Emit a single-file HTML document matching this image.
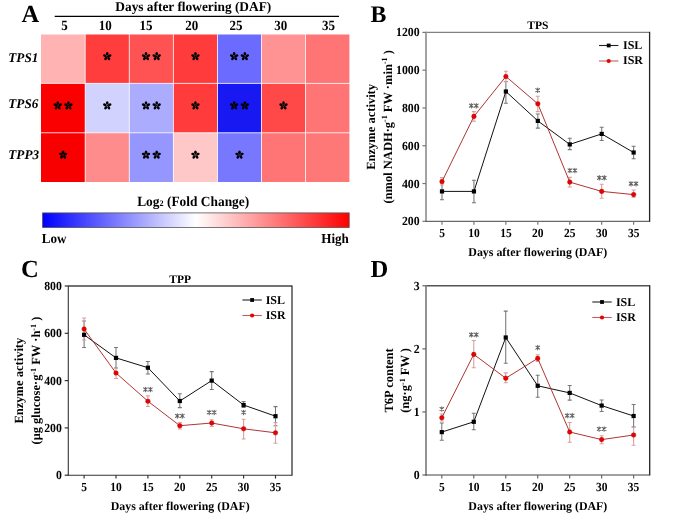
<!DOCTYPE html>
<html><head><meta charset="utf-8"><style>
html,body{margin:0;padding:0;background:#fff;}
svg{display:block;will-change:transform;opacity:0.999;}
text{font-family:"Liberation Serif", serif;text-rendering:geometricPrecision;}
</style></head><body>
<svg width="685" height="519" viewBox="0 0 685 519">
<rect width="685" height="519" fill="#fff"/>
<text x="21.50" y="21.60" font-size="24.5" text-anchor="start" font-weight="bold" font-style="normal" fill="#000" >A</text>
<text x="115.30" y="10.50" font-size="13.5" text-anchor="start" font-weight="bold" font-style="normal" fill="#000" textLength="156" lengthAdjust="spacingAndGlyphs">Days after flowering (DAF)</text>
<line x1="54.7" y1="16.3" x2="339" y2="16.3" stroke="#000" stroke-width="1.2"/>
<text x="64.40" y="30.45" font-size="13" text-anchor="middle" font-weight="bold" font-style="normal" fill="#000" transform="translate(0 30.45) scale(1 1.08) translate(0 -30.45)">5</text>
<text x="105.20" y="30.45" font-size="13" text-anchor="middle" font-weight="bold" font-style="normal" fill="#000" transform="translate(0 30.45) scale(1 1.08) translate(0 -30.45)">10</text>
<text x="146.00" y="30.45" font-size="13" text-anchor="middle" font-weight="bold" font-style="normal" fill="#000" transform="translate(0 30.45) scale(1 1.08) translate(0 -30.45)">15</text>
<text x="191.80" y="30.45" font-size="13" text-anchor="middle" font-weight="bold" font-style="normal" fill="#000" transform="translate(0 30.45) scale(1 1.08) translate(0 -30.45)">20</text>
<text x="236.00" y="30.45" font-size="13" text-anchor="middle" font-weight="bold" font-style="normal" fill="#000" transform="translate(0 30.45) scale(1 1.08) translate(0 -30.45)">25</text>
<text x="280.70" y="30.45" font-size="13" text-anchor="middle" font-weight="bold" font-style="normal" fill="#000" transform="translate(0 30.45) scale(1 1.08) translate(0 -30.45)">30</text>
<text x="328.60" y="30.45" font-size="13" text-anchor="middle" font-weight="bold" font-style="normal" fill="#000" transform="translate(0 30.45) scale(1 1.08) translate(0 -30.45)">35</text>
<text x="8.30" y="62.10" font-size="13.2" text-anchor="start" font-weight="bold" font-style="italic" fill="#000" >TPS1</text>
<text x="8.30" y="108.20" font-size="13.2" text-anchor="start" font-weight="bold" font-style="italic" fill="#000" >TPS6</text>
<text x="8.30" y="159.40" font-size="13.2" text-anchor="start" font-weight="bold" font-style="italic" fill="#000" >TPP3</text>
<rect x="41" y="34.5" width="44.20" height="48.90" fill="#FFB3B3"/>
<rect x="85.2" y="34.5" width="44.10" height="48.90" fill="#FF3D3D"/>
<rect x="129.3" y="34.5" width="44.10" height="48.90" fill="#FF5252"/>
<rect x="173.4" y="34.5" width="44.10" height="48.90" fill="#FF3B3B"/>
<rect x="217.5" y="34.5" width="44.00" height="48.90" fill="#6B6BFF"/>
<rect x="261.5" y="34.5" width="44.00" height="48.90" fill="#FF9393"/>
<rect x="305.5" y="34.5" width="43.90" height="48.90" fill="#FF7474"/>
<rect x="41" y="83.4" width="44.20" height="49.40" fill="#FA0000"/>
<rect x="85.2" y="83.4" width="44.10" height="49.40" fill="#D2D2FF"/>
<rect x="129.3" y="83.4" width="44.10" height="49.40" fill="#ACACFF"/>
<rect x="173.4" y="83.4" width="44.10" height="49.40" fill="#FF3B3B"/>
<rect x="217.5" y="83.4" width="44.00" height="49.40" fill="#1818F2"/>
<rect x="261.5" y="83.4" width="44.00" height="49.40" fill="#FF4848"/>
<rect x="305.5" y="83.4" width="43.90" height="49.40" fill="#FF7474"/>
<rect x="41" y="132.8" width="44.20" height="49.20" fill="#F80000"/>
<rect x="85.2" y="132.8" width="44.10" height="49.20" fill="#FF8C8C"/>
<rect x="129.3" y="132.8" width="44.10" height="49.20" fill="#9696FF"/>
<rect x="173.4" y="132.8" width="44.10" height="49.20" fill="#FFC8C8"/>
<rect x="217.5" y="132.8" width="44.00" height="49.20" fill="#7878FF"/>
<rect x="261.5" y="132.8" width="44.00" height="49.20" fill="#FF7474"/>
<rect x="305.5" y="132.8" width="43.90" height="49.20" fill="#FF7878"/>
<line x1="85.2" y1="34.5" x2="85.2" y2="182" stroke="#fff" stroke-width="1" opacity="0.75"/>
<line x1="129.3" y1="34.5" x2="129.3" y2="182" stroke="#fff" stroke-width="1" opacity="0.75"/>
<line x1="173.4" y1="34.5" x2="173.4" y2="182" stroke="#fff" stroke-width="1" opacity="0.75"/>
<line x1="217.5" y1="34.5" x2="217.5" y2="182" stroke="#fff" stroke-width="1" opacity="0.75"/>
<line x1="261.5" y1="34.5" x2="261.5" y2="182" stroke="#fff" stroke-width="1" opacity="0.75"/>
<line x1="305.5" y1="34.5" x2="305.5" y2="182" stroke="#fff" stroke-width="1" opacity="0.75"/>
<line x1="41" y1="83.4" x2="349.4" y2="83.4" stroke="#fff" stroke-width="1" opacity="0.75"/>
<line x1="41" y1="132.8" x2="349.4" y2="132.8" stroke="#fff" stroke-width="1" opacity="0.75"/>
<g fill="#000"><ellipse cx="107.25" cy="53.87" rx="1.81" ry="1.33" transform="rotate(-90 107.25 53.87)"/><ellipse cx="109.70" cy="55.65" rx="1.81" ry="1.33" transform="rotate(-18 109.70 55.65)"/><ellipse cx="108.77" cy="58.54" rx="1.81" ry="1.33" transform="rotate(54 108.77 58.54)"/><ellipse cx="105.73" cy="58.54" rx="1.81" ry="1.33" transform="rotate(126 105.73 58.54)"/><ellipse cx="104.80" cy="55.65" rx="1.81" ry="1.33" transform="rotate(198 104.80 55.65)"/><circle cx="107.25" cy="56.45" r="0.77"/></g>
<g fill="#000"><ellipse cx="146.00" cy="53.87" rx="1.81" ry="1.33" transform="rotate(-90 146.00 53.87)"/><ellipse cx="148.45" cy="55.65" rx="1.81" ry="1.33" transform="rotate(-18 148.45 55.65)"/><ellipse cx="147.52" cy="58.54" rx="1.81" ry="1.33" transform="rotate(54 147.52 58.54)"/><ellipse cx="144.48" cy="58.54" rx="1.81" ry="1.33" transform="rotate(126 144.48 58.54)"/><ellipse cx="143.55" cy="55.65" rx="1.81" ry="1.33" transform="rotate(198 143.55 55.65)"/><circle cx="146.00" cy="56.45" r="0.77"/></g>
<g fill="#000"><ellipse cx="156.70" cy="53.87" rx="1.81" ry="1.33" transform="rotate(-90 156.70 53.87)"/><ellipse cx="159.15" cy="55.65" rx="1.81" ry="1.33" transform="rotate(-18 159.15 55.65)"/><ellipse cx="158.22" cy="58.54" rx="1.81" ry="1.33" transform="rotate(54 158.22 58.54)"/><ellipse cx="155.18" cy="58.54" rx="1.81" ry="1.33" transform="rotate(126 155.18 58.54)"/><ellipse cx="154.25" cy="55.65" rx="1.81" ry="1.33" transform="rotate(198 154.25 55.65)"/><circle cx="156.70" cy="56.45" r="0.77"/></g>
<g fill="#000"><ellipse cx="195.45" cy="53.87" rx="1.81" ry="1.33" transform="rotate(-90 195.45 53.87)"/><ellipse cx="197.90" cy="55.65" rx="1.81" ry="1.33" transform="rotate(-18 197.90 55.65)"/><ellipse cx="196.97" cy="58.54" rx="1.81" ry="1.33" transform="rotate(54 196.97 58.54)"/><ellipse cx="193.93" cy="58.54" rx="1.81" ry="1.33" transform="rotate(126 193.93 58.54)"/><ellipse cx="193.00" cy="55.65" rx="1.81" ry="1.33" transform="rotate(198 193.00 55.65)"/><circle cx="195.45" cy="56.45" r="0.77"/></g>
<g fill="#000"><ellipse cx="234.15" cy="53.87" rx="1.81" ry="1.33" transform="rotate(-90 234.15 53.87)"/><ellipse cx="236.60" cy="55.65" rx="1.81" ry="1.33" transform="rotate(-18 236.60 55.65)"/><ellipse cx="235.67" cy="58.54" rx="1.81" ry="1.33" transform="rotate(54 235.67 58.54)"/><ellipse cx="232.63" cy="58.54" rx="1.81" ry="1.33" transform="rotate(126 232.63 58.54)"/><ellipse cx="231.70" cy="55.65" rx="1.81" ry="1.33" transform="rotate(198 231.70 55.65)"/><circle cx="234.15" cy="56.45" r="0.77"/></g>
<g fill="#000"><ellipse cx="244.85" cy="53.87" rx="1.81" ry="1.33" transform="rotate(-90 244.85 53.87)"/><ellipse cx="247.30" cy="55.65" rx="1.81" ry="1.33" transform="rotate(-18 247.30 55.65)"/><ellipse cx="246.37" cy="58.54" rx="1.81" ry="1.33" transform="rotate(54 246.37 58.54)"/><ellipse cx="243.33" cy="58.54" rx="1.81" ry="1.33" transform="rotate(126 243.33 58.54)"/><ellipse cx="242.40" cy="55.65" rx="1.81" ry="1.33" transform="rotate(198 242.40 55.65)"/><circle cx="244.85" cy="56.45" r="0.77"/></g>
<g fill="#000"><ellipse cx="57.75" cy="103.02" rx="1.81" ry="1.33" transform="rotate(-90 57.75 103.02)"/><ellipse cx="60.20" cy="104.80" rx="1.81" ry="1.33" transform="rotate(-18 60.20 104.80)"/><ellipse cx="59.27" cy="107.69" rx="1.81" ry="1.33" transform="rotate(54 59.27 107.69)"/><ellipse cx="56.23" cy="107.69" rx="1.81" ry="1.33" transform="rotate(126 56.23 107.69)"/><ellipse cx="55.30" cy="104.80" rx="1.81" ry="1.33" transform="rotate(198 55.30 104.80)"/><circle cx="57.75" cy="105.60" r="0.77"/></g>
<g fill="#000"><ellipse cx="68.45" cy="103.02" rx="1.81" ry="1.33" transform="rotate(-90 68.45 103.02)"/><ellipse cx="70.90" cy="104.80" rx="1.81" ry="1.33" transform="rotate(-18 70.90 104.80)"/><ellipse cx="69.97" cy="107.69" rx="1.81" ry="1.33" transform="rotate(54 69.97 107.69)"/><ellipse cx="66.93" cy="107.69" rx="1.81" ry="1.33" transform="rotate(126 66.93 107.69)"/><ellipse cx="66.00" cy="104.80" rx="1.81" ry="1.33" transform="rotate(198 66.00 104.80)"/><circle cx="68.45" cy="105.60" r="0.77"/></g>
<g fill="#000"><ellipse cx="107.25" cy="103.02" rx="1.81" ry="1.33" transform="rotate(-90 107.25 103.02)"/><ellipse cx="109.70" cy="104.80" rx="1.81" ry="1.33" transform="rotate(-18 109.70 104.80)"/><ellipse cx="108.77" cy="107.69" rx="1.81" ry="1.33" transform="rotate(54 108.77 107.69)"/><ellipse cx="105.73" cy="107.69" rx="1.81" ry="1.33" transform="rotate(126 105.73 107.69)"/><ellipse cx="104.80" cy="104.80" rx="1.81" ry="1.33" transform="rotate(198 104.80 104.80)"/><circle cx="107.25" cy="105.60" r="0.77"/></g>
<g fill="#000"><ellipse cx="146.00" cy="103.02" rx="1.81" ry="1.33" transform="rotate(-90 146.00 103.02)"/><ellipse cx="148.45" cy="104.80" rx="1.81" ry="1.33" transform="rotate(-18 148.45 104.80)"/><ellipse cx="147.52" cy="107.69" rx="1.81" ry="1.33" transform="rotate(54 147.52 107.69)"/><ellipse cx="144.48" cy="107.69" rx="1.81" ry="1.33" transform="rotate(126 144.48 107.69)"/><ellipse cx="143.55" cy="104.80" rx="1.81" ry="1.33" transform="rotate(198 143.55 104.80)"/><circle cx="146.00" cy="105.60" r="0.77"/></g>
<g fill="#000"><ellipse cx="156.70" cy="103.02" rx="1.81" ry="1.33" transform="rotate(-90 156.70 103.02)"/><ellipse cx="159.15" cy="104.80" rx="1.81" ry="1.33" transform="rotate(-18 159.15 104.80)"/><ellipse cx="158.22" cy="107.69" rx="1.81" ry="1.33" transform="rotate(54 158.22 107.69)"/><ellipse cx="155.18" cy="107.69" rx="1.81" ry="1.33" transform="rotate(126 155.18 107.69)"/><ellipse cx="154.25" cy="104.80" rx="1.81" ry="1.33" transform="rotate(198 154.25 104.80)"/><circle cx="156.70" cy="105.60" r="0.77"/></g>
<g fill="#000"><ellipse cx="195.45" cy="103.02" rx="1.81" ry="1.33" transform="rotate(-90 195.45 103.02)"/><ellipse cx="197.90" cy="104.80" rx="1.81" ry="1.33" transform="rotate(-18 197.90 104.80)"/><ellipse cx="196.97" cy="107.69" rx="1.81" ry="1.33" transform="rotate(54 196.97 107.69)"/><ellipse cx="193.93" cy="107.69" rx="1.81" ry="1.33" transform="rotate(126 193.93 107.69)"/><ellipse cx="193.00" cy="104.80" rx="1.81" ry="1.33" transform="rotate(198 193.00 104.80)"/><circle cx="195.45" cy="105.60" r="0.77"/></g>
<g fill="#000"><ellipse cx="234.15" cy="103.02" rx="1.81" ry="1.33" transform="rotate(-90 234.15 103.02)"/><ellipse cx="236.60" cy="104.80" rx="1.81" ry="1.33" transform="rotate(-18 236.60 104.80)"/><ellipse cx="235.67" cy="107.69" rx="1.81" ry="1.33" transform="rotate(54 235.67 107.69)"/><ellipse cx="232.63" cy="107.69" rx="1.81" ry="1.33" transform="rotate(126 232.63 107.69)"/><ellipse cx="231.70" cy="104.80" rx="1.81" ry="1.33" transform="rotate(198 231.70 104.80)"/><circle cx="234.15" cy="105.60" r="0.77"/></g>
<g fill="#000"><ellipse cx="244.85" cy="103.02" rx="1.81" ry="1.33" transform="rotate(-90 244.85 103.02)"/><ellipse cx="247.30" cy="104.80" rx="1.81" ry="1.33" transform="rotate(-18 247.30 104.80)"/><ellipse cx="246.37" cy="107.69" rx="1.81" ry="1.33" transform="rotate(54 246.37 107.69)"/><ellipse cx="243.33" cy="107.69" rx="1.81" ry="1.33" transform="rotate(126 243.33 107.69)"/><ellipse cx="242.40" cy="104.80" rx="1.81" ry="1.33" transform="rotate(198 242.40 104.80)"/><circle cx="244.85" cy="105.60" r="0.77"/></g>
<g fill="#000"><ellipse cx="283.50" cy="103.02" rx="1.81" ry="1.33" transform="rotate(-90 283.50 103.02)"/><ellipse cx="285.95" cy="104.80" rx="1.81" ry="1.33" transform="rotate(-18 285.95 104.80)"/><ellipse cx="285.02" cy="107.69" rx="1.81" ry="1.33" transform="rotate(54 285.02 107.69)"/><ellipse cx="281.98" cy="107.69" rx="1.81" ry="1.33" transform="rotate(126 281.98 107.69)"/><ellipse cx="281.05" cy="104.80" rx="1.81" ry="1.33" transform="rotate(198 281.05 104.80)"/><circle cx="283.50" cy="105.60" r="0.77"/></g>
<g fill="#000"><ellipse cx="63.10" cy="152.32" rx="1.81" ry="1.33" transform="rotate(-90 63.10 152.32)"/><ellipse cx="65.55" cy="154.10" rx="1.81" ry="1.33" transform="rotate(-18 65.55 154.10)"/><ellipse cx="64.62" cy="156.99" rx="1.81" ry="1.33" transform="rotate(54 64.62 156.99)"/><ellipse cx="61.58" cy="156.99" rx="1.81" ry="1.33" transform="rotate(126 61.58 156.99)"/><ellipse cx="60.65" cy="154.10" rx="1.81" ry="1.33" transform="rotate(198 60.65 154.10)"/><circle cx="63.10" cy="154.90" r="0.77"/></g>
<g fill="#000"><ellipse cx="146.00" cy="152.32" rx="1.81" ry="1.33" transform="rotate(-90 146.00 152.32)"/><ellipse cx="148.45" cy="154.10" rx="1.81" ry="1.33" transform="rotate(-18 148.45 154.10)"/><ellipse cx="147.52" cy="156.99" rx="1.81" ry="1.33" transform="rotate(54 147.52 156.99)"/><ellipse cx="144.48" cy="156.99" rx="1.81" ry="1.33" transform="rotate(126 144.48 156.99)"/><ellipse cx="143.55" cy="154.10" rx="1.81" ry="1.33" transform="rotate(198 143.55 154.10)"/><circle cx="146.00" cy="154.90" r="0.77"/></g>
<g fill="#000"><ellipse cx="156.70" cy="152.32" rx="1.81" ry="1.33" transform="rotate(-90 156.70 152.32)"/><ellipse cx="159.15" cy="154.10" rx="1.81" ry="1.33" transform="rotate(-18 159.15 154.10)"/><ellipse cx="158.22" cy="156.99" rx="1.81" ry="1.33" transform="rotate(54 158.22 156.99)"/><ellipse cx="155.18" cy="156.99" rx="1.81" ry="1.33" transform="rotate(126 155.18 156.99)"/><ellipse cx="154.25" cy="154.10" rx="1.81" ry="1.33" transform="rotate(198 154.25 154.10)"/><circle cx="156.70" cy="154.90" r="0.77"/></g>
<g fill="#000"><ellipse cx="195.45" cy="152.32" rx="1.81" ry="1.33" transform="rotate(-90 195.45 152.32)"/><ellipse cx="197.90" cy="154.10" rx="1.81" ry="1.33" transform="rotate(-18 197.90 154.10)"/><ellipse cx="196.97" cy="156.99" rx="1.81" ry="1.33" transform="rotate(54 196.97 156.99)"/><ellipse cx="193.93" cy="156.99" rx="1.81" ry="1.33" transform="rotate(126 193.93 156.99)"/><ellipse cx="193.00" cy="154.10" rx="1.81" ry="1.33" transform="rotate(198 193.00 154.10)"/><circle cx="195.45" cy="154.90" r="0.77"/></g>
<g fill="#000"><ellipse cx="239.50" cy="152.32" rx="1.81" ry="1.33" transform="rotate(-90 239.50 152.32)"/><ellipse cx="241.95" cy="154.10" rx="1.81" ry="1.33" transform="rotate(-18 241.95 154.10)"/><ellipse cx="241.02" cy="156.99" rx="1.81" ry="1.33" transform="rotate(54 241.02 156.99)"/><ellipse cx="237.98" cy="156.99" rx="1.81" ry="1.33" transform="rotate(126 237.98 156.99)"/><ellipse cx="237.05" cy="154.10" rx="1.81" ry="1.33" transform="rotate(198 237.05 154.10)"/><circle cx="239.50" cy="154.90" r="0.77"/></g>
<text x="137.20" y="205.60" font-size="14" text-anchor="start" font-weight="bold" font-style="normal" fill="#000" textLength="112" lengthAdjust="spacingAndGlyphs">Log<tspan font-size="8.5">2</tspan> (Fold Change)</text>
<defs><linearGradient id="cb" x1="0" x2="1" y1="0" y2="0"><stop offset="0" stop-color="#0000FF"/><stop offset="0.5" stop-color="#FFFFFF"/><stop offset="1" stop-color="#FF0000"/></linearGradient></defs>
<rect x="42.6" y="212.9" width="306.6" height="14.7" fill="url(#cb)" stroke="#555" stroke-width="0.8"/>
<text x="41.80" y="242.80" font-size="13.1" text-anchor="start" font-weight="bold" font-style="normal" fill="#000" transform="translate(0 242.8) scale(1 1.06) translate(0 -242.8)">Low</text>
<text x="348.90" y="242.80" font-size="13.1" text-anchor="end" font-weight="bold" font-style="normal" fill="#000" transform="translate(0 242.8) scale(1 1.04) translate(0 -242.8)">High</text>
<line x1="426" y1="32.4" x2="649.6" y2="32.4" stroke="#808080" stroke-width="1.3"/>
<line x1="426" y1="31.799999999999997" x2="426" y2="221.9" stroke="#999" stroke-width="1.8"/>
<line x1="649.6" y1="31.799999999999997" x2="649.6" y2="221.9" stroke="#222" stroke-width="1.3"/>
<line x1="425.1" y1="221.3" x2="649.6" y2="221.3" stroke="#444" stroke-width="1.0"/>
<line x1="422.4" y1="221.3" x2="426" y2="221.3" stroke="#777" stroke-width="1.2"/>
<text x="419.60" y="225.20" font-size="11.8" text-anchor="end" font-weight="bold" font-style="normal" fill="#000" transform="translate(0 221.30) scale(1 1.05) translate(0 -221.30)">200</text>
<line x1="422.4" y1="183.52" x2="426" y2="183.52" stroke="#777" stroke-width="1.2"/>
<text x="419.60" y="187.42" font-size="11.8" text-anchor="end" font-weight="bold" font-style="normal" fill="#000" transform="translate(0 183.52) scale(1 1.05) translate(0 -183.52)">400</text>
<line x1="422.4" y1="145.74" x2="426" y2="145.74" stroke="#777" stroke-width="1.2"/>
<text x="419.60" y="149.64" font-size="11.8" text-anchor="end" font-weight="bold" font-style="normal" fill="#000" transform="translate(0 145.74) scale(1 1.05) translate(0 -145.74)">600</text>
<line x1="422.4" y1="107.96000000000001" x2="426" y2="107.96000000000001" stroke="#777" stroke-width="1.2"/>
<text x="419.60" y="111.86" font-size="11.8" text-anchor="end" font-weight="bold" font-style="normal" fill="#000" transform="translate(0 107.96) scale(1 1.05) translate(0 -107.96)">800</text>
<line x1="422.4" y1="70.18" x2="426" y2="70.18" stroke="#777" stroke-width="1.2"/>
<text x="419.60" y="74.08" font-size="11.8" text-anchor="end" font-weight="bold" font-style="normal" fill="#000" transform="translate(0 70.18) scale(1 1.05) translate(0 -70.18)">1000</text>
<line x1="422.4" y1="32.400000000000006" x2="426" y2="32.400000000000006" stroke="#777" stroke-width="1.2"/>
<text x="419.60" y="36.30" font-size="11.8" text-anchor="end" font-weight="bold" font-style="normal" fill="#000" transform="translate(0 32.40) scale(1 1.05) translate(0 -32.40)">1200</text>
<line x1="442.00" y1="221.3" x2="442.00" y2="224.70000000000002" stroke="#777" stroke-width="1.2"/>
<text x="442.00" y="237.30" font-size="11.5" text-anchor="middle" font-weight="bold" font-style="normal" fill="#000" transform="translate(0 237.30) scale(1 1.08) translate(0 -237.30)">5</text>
<line x1="473.94" y1="221.3" x2="473.94" y2="224.70000000000002" stroke="#777" stroke-width="1.2"/>
<text x="473.94" y="237.30" font-size="11.5" text-anchor="middle" font-weight="bold" font-style="normal" fill="#000" transform="translate(0 237.30) scale(1 1.08) translate(0 -237.30)">10</text>
<line x1="505.88" y1="221.3" x2="505.88" y2="224.70000000000002" stroke="#777" stroke-width="1.2"/>
<text x="505.88" y="237.30" font-size="11.5" text-anchor="middle" font-weight="bold" font-style="normal" fill="#000" transform="translate(0 237.30) scale(1 1.08) translate(0 -237.30)">15</text>
<line x1="537.82" y1="221.3" x2="537.82" y2="224.70000000000002" stroke="#777" stroke-width="1.2"/>
<text x="537.82" y="237.30" font-size="11.5" text-anchor="middle" font-weight="bold" font-style="normal" fill="#000" transform="translate(0 237.30) scale(1 1.08) translate(0 -237.30)">20</text>
<line x1="569.76" y1="221.3" x2="569.76" y2="224.70000000000002" stroke="#777" stroke-width="1.2"/>
<text x="569.76" y="237.30" font-size="11.5" text-anchor="middle" font-weight="bold" font-style="normal" fill="#000" transform="translate(0 237.30) scale(1 1.08) translate(0 -237.30)">25</text>
<line x1="601.70" y1="221.3" x2="601.70" y2="224.70000000000002" stroke="#777" stroke-width="1.2"/>
<text x="601.70" y="237.30" font-size="11.5" text-anchor="middle" font-weight="bold" font-style="normal" fill="#000" transform="translate(0 237.30) scale(1 1.08) translate(0 -237.30)">30</text>
<line x1="633.64" y1="221.3" x2="633.64" y2="224.70000000000002" stroke="#777" stroke-width="1.2"/>
<text x="633.64" y="237.30" font-size="11.5" text-anchor="middle" font-weight="bold" font-style="normal" fill="#000" transform="translate(0 237.30) scale(1 1.08) translate(0 -237.30)">35</text>
<text x="537.80" y="256.10" font-size="12" text-anchor="middle" font-weight="bold" font-style="normal" fill="#000" textLength="139" lengthAdjust="spacingAndGlyphs">Days after flowering (DAF)</text>
<text x="537.80" y="28.80" font-size="11.5" text-anchor="middle" font-weight="bold" font-style="normal" fill="#000" >TPS</text>
<text x="370.60" y="21.50" font-size="23.8" text-anchor="start" font-weight="bold" font-style="normal" fill="#000" >B</text>
<text x="0.00" y="0.00" font-size="12.5" text-anchor="middle" font-weight="bold" font-style="normal" fill="#000" transform="translate(374.6,126.85) rotate(-90)">Enzyme activity</text>
<text x="0.00" y="0.00" font-size="12.5" text-anchor="middle" font-weight="bold" font-style="normal" fill="#000" transform="translate(391.6,126.85) rotate(-90)">(nmol NADH·g<tspan font-size="8" dy="-4.5">-1</tspan><tspan dy="4.5"> </tspan>FW ·min<tspan font-size="8" dy="-4.5">-1</tspan><tspan dy="4.5"> </tspan>)</text>
<path d="M442.00,183V199.8M440.00,183H444.00M440.00,199.8H444.00" stroke="#777" stroke-width="1.05" fill="none"/>
<path d="M473.94,180.3V202.7M471.94,180.3H475.94M471.94,202.7H475.94" stroke="#777" stroke-width="1.05" fill="none"/>
<path d="M505.88,81.4V103.2M503.88,81.4H507.88M503.88,103.2H507.88" stroke="#777" stroke-width="1.05" fill="none"/>
<path d="M537.82,114V128.1M535.82,114H539.82M535.82,128.1H539.82" stroke="#777" stroke-width="1.05" fill="none"/>
<path d="M569.76,138.3V149.6M567.76,138.3H571.76M567.76,149.6H571.76" stroke="#777" stroke-width="1.05" fill="none"/>
<path d="M601.70,127.2V140.5M599.70,127.2H603.70M599.70,140.5H603.70" stroke="#777" stroke-width="1.05" fill="none"/>
<path d="M633.64,146.3V158.8M631.64,146.3H635.64M631.64,158.8H635.64" stroke="#777" stroke-width="1.05" fill="none"/>
<path d="M442.00,177.6V185M440.00,177.6H444.00M440.00,185H444.00" stroke="#d8a0a0" stroke-width="1.1" fill="none"/>
<path d="M473.94,111.6V121.3M471.94,111.6H475.94M471.94,121.3H475.94" stroke="#d8a0a0" stroke-width="1.1" fill="none"/>
<path d="M505.88,71.3V81.7M503.88,71.3H507.88M503.88,81.7H507.88" stroke="#d8a0a0" stroke-width="1.1" fill="none"/>
<path d="M537.82,96.2V111.6M535.82,96.2H539.82M535.82,111.6H539.82" stroke="#d8a0a0" stroke-width="1.1" fill="none"/>
<path d="M569.76,177.4V187M567.76,177.4H571.76M567.76,187H571.76" stroke="#d8a0a0" stroke-width="1.1" fill="none"/>
<path d="M601.70,184.2V198.2M599.70,184.2H603.70M599.70,198.2H603.70" stroke="#d8a0a0" stroke-width="1.1" fill="none"/>
<path d="M633.64,190V197.3M631.64,190H635.64M631.64,197.3H635.64" stroke="#d8a0a0" stroke-width="1.1" fill="none"/>
<polyline points="442.00,191.4 473.94,191.4 505.88,91.5 537.82,120.9 569.76,144.4 601.70,133.9 633.64,152.5" stroke="#111" stroke-width="1.0" fill="none"/>
<polyline points="442.00,181.5 473.94,116.4 505.88,76.5 537.82,103.8 569.76,182.1 601.70,191.4 633.64,194.6" stroke="#b23434" stroke-width="1.0" fill="none"/>
<rect x="439.90" y="189.30" width="4.2" height="4.2" fill="#000"/>
<rect x="471.84" y="189.30" width="4.2" height="4.2" fill="#000"/>
<rect x="503.78" y="89.40" width="4.2" height="4.2" fill="#000"/>
<rect x="535.72" y="118.80" width="4.2" height="4.2" fill="#000"/>
<rect x="567.66" y="142.30" width="4.2" height="4.2" fill="#000"/>
<rect x="599.60" y="131.80" width="4.2" height="4.2" fill="#000"/>
<rect x="631.54" y="150.40" width="4.2" height="4.2" fill="#000"/>
<circle cx="442.00" cy="181.5" r="2.3" fill="#e80000" stroke="#b00000" stroke-width="0.4"/>
<circle cx="473.94" cy="116.4" r="2.3" fill="#e80000" stroke="#b00000" stroke-width="0.4"/>
<circle cx="505.88" cy="76.5" r="2.3" fill="#e80000" stroke="#b00000" stroke-width="0.4"/>
<circle cx="537.82" cy="103.8" r="2.3" fill="#e80000" stroke="#b00000" stroke-width="0.4"/>
<circle cx="569.76" cy="182.1" r="2.3" fill="#e80000" stroke="#b00000" stroke-width="0.4"/>
<circle cx="601.70" cy="191.4" r="2.3" fill="#e80000" stroke="#b00000" stroke-width="0.4"/>
<circle cx="633.64" cy="194.6" r="2.3" fill="#e80000" stroke="#b00000" stroke-width="0.4"/>
<path d="M471.30,103.45V107.95M469.44,104.14L473.16,107.26M469.44,107.26L473.16,104.14" stroke="#606060" stroke-width="1.05" stroke-linecap="round" fill="none"/>
<path d="M476.30,103.45V107.95M474.44,104.14L478.16,107.26M474.44,107.26L478.16,104.14" stroke="#606060" stroke-width="1.05" stroke-linecap="round" fill="none"/>
<path d="M537.70,87.95V92.45M535.84,88.64L539.56,91.76M535.84,91.76L539.56,88.64" stroke="#606060" stroke-width="1.05" stroke-linecap="round" fill="none"/>
<path d="M569.90,168.25V172.75M568.04,168.94L571.76,172.06M568.04,172.06L571.76,168.94" stroke="#606060" stroke-width="1.05" stroke-linecap="round" fill="none"/>
<path d="M574.90,168.25V172.75M573.04,168.94L576.76,172.06M573.04,172.06L576.76,168.94" stroke="#606060" stroke-width="1.05" stroke-linecap="round" fill="none"/>
<path d="M599.30,175.55V180.05M597.44,176.24L601.16,179.36M597.44,179.36L601.16,176.24" stroke="#606060" stroke-width="1.05" stroke-linecap="round" fill="none"/>
<path d="M604.30,175.55V180.05M602.44,176.24L606.16,179.36M602.44,179.36L606.16,176.24" stroke="#606060" stroke-width="1.05" stroke-linecap="round" fill="none"/>
<path d="M631.00,181.45V185.95M629.14,182.14L632.86,185.26M629.14,185.26L632.86,182.14" stroke="#606060" stroke-width="1.05" stroke-linecap="round" fill="none"/>
<path d="M636.00,181.45V185.95M634.14,182.14L637.86,185.26M634.14,185.26L637.86,182.14" stroke="#606060" stroke-width="1.05" stroke-linecap="round" fill="none"/>
<line x1="599" y1="45.5" x2="618.4" y2="45.5" stroke="#222" stroke-width="1.1"/>
<rect x="606.8000000000001" y="43.6" width="3.8" height="3.8" fill="#000"/>
<line x1="599" y1="61.0" x2="618.4" y2="61.0" stroke="#c06060" stroke-width="1.1"/>
<circle cx="608.7" cy="61.0" r="2.1" fill="#e80000"/>
<text x="623.00" y="49.40" font-size="12" text-anchor="start" font-weight="bold" font-style="normal" fill="#000" >ISL</text>
<text x="623.00" y="64.35" font-size="12" text-anchor="start" font-weight="bold" font-style="normal" fill="#000" >ISR</text>
<line x1="68.3" y1="286" x2="292" y2="286" stroke="#444" stroke-width="1.4"/>
<line x1="68.3" y1="285.4" x2="68.3" y2="475.8" stroke="#333" stroke-width="1.1"/>
<line x1="292" y1="285.4" x2="292" y2="475.8" stroke="#333" stroke-width="1.3"/>
<line x1="67.39999999999999" y1="475.2" x2="292" y2="475.2" stroke="#333" stroke-width="1.1"/>
<line x1="64.7" y1="475.2" x2="68.3" y2="475.2" stroke="#333" stroke-width="1.2"/>
<text x="61.90" y="479.10" font-size="11.8" text-anchor="end" font-weight="bold" font-style="normal" fill="#000" transform="translate(0 475.20) scale(1 1.05) translate(0 -475.20)">0</text>
<line x1="64.7" y1="427.9" x2="68.3" y2="427.9" stroke="#333" stroke-width="1.2"/>
<text x="61.90" y="431.80" font-size="11.8" text-anchor="end" font-weight="bold" font-style="normal" fill="#000" transform="translate(0 427.90) scale(1 1.05) translate(0 -427.90)">200</text>
<line x1="64.7" y1="380.6" x2="68.3" y2="380.6" stroke="#333" stroke-width="1.2"/>
<text x="61.90" y="384.50" font-size="11.8" text-anchor="end" font-weight="bold" font-style="normal" fill="#000" transform="translate(0 380.60) scale(1 1.05) translate(0 -380.60)">400</text>
<line x1="64.7" y1="333.3" x2="68.3" y2="333.3" stroke="#333" stroke-width="1.2"/>
<text x="61.90" y="337.20" font-size="11.8" text-anchor="end" font-weight="bold" font-style="normal" fill="#000" transform="translate(0 333.30) scale(1 1.05) translate(0 -333.30)">600</text>
<line x1="64.7" y1="286.0" x2="68.3" y2="286.0" stroke="#333" stroke-width="1.2"/>
<text x="61.90" y="289.90" font-size="11.8" text-anchor="end" font-weight="bold" font-style="normal" fill="#000" transform="translate(0 286.00) scale(1 1.05) translate(0 -286.00)">800</text>
<line x1="84.10" y1="475.2" x2="84.10" y2="478.59999999999997" stroke="#333" stroke-width="1.2"/>
<text x="84.10" y="491.20" font-size="11.5" text-anchor="middle" font-weight="bold" font-style="normal" fill="#000" transform="translate(0 491.20) scale(1 1.08) translate(0 -491.20)">5</text>
<line x1="116.00" y1="475.2" x2="116.00" y2="478.59999999999997" stroke="#333" stroke-width="1.2"/>
<text x="116.00" y="491.20" font-size="11.5" text-anchor="middle" font-weight="bold" font-style="normal" fill="#000" transform="translate(0 491.20) scale(1 1.08) translate(0 -491.20)">10</text>
<line x1="147.90" y1="475.2" x2="147.90" y2="478.59999999999997" stroke="#333" stroke-width="1.2"/>
<text x="147.90" y="491.20" font-size="11.5" text-anchor="middle" font-weight="bold" font-style="normal" fill="#000" transform="translate(0 491.20) scale(1 1.08) translate(0 -491.20)">15</text>
<line x1="179.80" y1="475.2" x2="179.80" y2="478.59999999999997" stroke="#333" stroke-width="1.2"/>
<text x="179.80" y="491.20" font-size="11.5" text-anchor="middle" font-weight="bold" font-style="normal" fill="#000" transform="translate(0 491.20) scale(1 1.08) translate(0 -491.20)">20</text>
<line x1="211.70" y1="475.2" x2="211.70" y2="478.59999999999997" stroke="#333" stroke-width="1.2"/>
<text x="211.70" y="491.20" font-size="11.5" text-anchor="middle" font-weight="bold" font-style="normal" fill="#000" transform="translate(0 491.20) scale(1 1.08) translate(0 -491.20)">25</text>
<line x1="243.60" y1="475.2" x2="243.60" y2="478.59999999999997" stroke="#333" stroke-width="1.2"/>
<text x="243.60" y="491.20" font-size="11.5" text-anchor="middle" font-weight="bold" font-style="normal" fill="#000" transform="translate(0 491.20) scale(1 1.08) translate(0 -491.20)">30</text>
<line x1="275.50" y1="475.2" x2="275.50" y2="478.59999999999997" stroke="#333" stroke-width="1.2"/>
<text x="275.50" y="491.20" font-size="11.5" text-anchor="middle" font-weight="bold" font-style="normal" fill="#000" transform="translate(0 491.20) scale(1 1.08) translate(0 -491.20)">35</text>
<text x="180.15" y="510.00" font-size="12" text-anchor="middle" font-weight="bold" font-style="normal" fill="#000" textLength="139" lengthAdjust="spacingAndGlyphs">Days after flowering (DAF)</text>
<text x="180.15" y="283.00" font-size="11.5" text-anchor="middle" font-weight="bold" font-style="normal" fill="#000" >TPP</text>
<text x="21.00" y="276.50" font-size="24.6" text-anchor="start" font-weight="bold" font-style="normal" fill="#000" >C</text>
<text x="0.00" y="0.00" font-size="12.5" text-anchor="middle" font-weight="bold" font-style="normal" fill="#000" transform="translate(23.2,380.60) rotate(-90)">Enzyme activity</text>
<text x="0.00" y="0.00" font-size="12.5" text-anchor="middle" font-weight="bold" font-style="normal" fill="#000" transform="translate(40,380.60) rotate(-90)">(μg glucose·g<tspan font-size="8" dy="-4.5">-1</tspan><tspan dy="4.5"> </tspan>FW ·h<tspan font-size="8" dy="-4.5">-1</tspan><tspan dy="4.5"> </tspan>)</text>
<path d="M84.10,321V347.5M82.10,321H86.10M82.10,347.5H86.10" stroke="#777" stroke-width="1.05" fill="none"/>
<path d="M116.00,347.5V367.9M114.00,347.5H118.00M114.00,367.9H118.00" stroke="#777" stroke-width="1.05" fill="none"/>
<path d="M147.90,361.5V374M145.90,361.5H149.90M145.90,374H149.90" stroke="#777" stroke-width="1.05" fill="none"/>
<path d="M179.80,393.7V407.6M177.80,393.7H181.80M177.80,407.6H181.80" stroke="#777" stroke-width="1.05" fill="none"/>
<path d="M211.70,371.6V389.5M209.70,371.6H213.70M209.70,389.5H213.70" stroke="#777" stroke-width="1.05" fill="none"/>
<path d="M243.60,401.4V407.5M241.60,401.4H245.60M241.60,407.5H245.60" stroke="#777" stroke-width="1.05" fill="none"/>
<path d="M275.50,406.6V425.8M273.50,406.6H277.50M273.50,425.8H277.50" stroke="#777" stroke-width="1.05" fill="none"/>
<path d="M84.10,318V340M82.10,318H86.10M82.10,340H86.10" stroke="#d8a0a0" stroke-width="1.1" fill="none"/>
<path d="M116.00,368.3V378.5M114.00,368.3H118.00M114.00,378.5H118.00" stroke="#d8a0a0" stroke-width="1.1" fill="none"/>
<path d="M147.90,395.9V406.5M145.90,395.9H149.90M145.90,406.5H149.90" stroke="#d8a0a0" stroke-width="1.1" fill="none"/>
<path d="M179.80,422.6V429M177.80,422.6H181.80M177.80,429H181.80" stroke="#d8a0a0" stroke-width="1.1" fill="none"/>
<path d="M211.70,419.7V426.5M209.70,419.7H213.70M209.70,426.5H213.70" stroke="#d8a0a0" stroke-width="1.1" fill="none"/>
<path d="M243.60,419.3V439M241.60,419.3H245.60M241.60,439H245.60" stroke="#d8a0a0" stroke-width="1.1" fill="none"/>
<path d="M275.50,422.6V443.2M273.50,422.6H277.50M273.50,443.2H277.50" stroke="#d8a0a0" stroke-width="1.1" fill="none"/>
<polyline points="84.10,334.8 116.00,357.9 147.90,367.7 179.80,401 211.70,380.6 243.60,405 275.50,416.2" stroke="#111" stroke-width="1.0" fill="none"/>
<polyline points="84.10,329 116.00,373 147.90,401.2 179.80,425.7 211.70,423 243.60,428.8 275.50,432.8" stroke="#b23434" stroke-width="1.0" fill="none"/>
<rect x="82.00" y="332.70" width="4.2" height="4.2" fill="#000"/>
<rect x="113.90" y="355.80" width="4.2" height="4.2" fill="#000"/>
<rect x="145.80" y="365.60" width="4.2" height="4.2" fill="#000"/>
<rect x="177.70" y="398.90" width="4.2" height="4.2" fill="#000"/>
<rect x="209.60" y="378.50" width="4.2" height="4.2" fill="#000"/>
<rect x="241.50" y="402.90" width="4.2" height="4.2" fill="#000"/>
<rect x="273.40" y="414.10" width="4.2" height="4.2" fill="#000"/>
<circle cx="84.10" cy="329" r="2.3" fill="#e80000" stroke="#b00000" stroke-width="0.4"/>
<circle cx="116.00" cy="373" r="2.3" fill="#e80000" stroke="#b00000" stroke-width="0.4"/>
<circle cx="147.90" cy="401.2" r="2.3" fill="#e80000" stroke="#b00000" stroke-width="0.4"/>
<circle cx="179.80" cy="425.7" r="2.3" fill="#e80000" stroke="#b00000" stroke-width="0.4"/>
<circle cx="211.70" cy="423" r="2.3" fill="#e80000" stroke="#b00000" stroke-width="0.4"/>
<circle cx="243.60" cy="428.8" r="2.3" fill="#e80000" stroke="#b00000" stroke-width="0.4"/>
<circle cx="275.50" cy="432.8" r="2.3" fill="#e80000" stroke="#b00000" stroke-width="0.4"/>
<path d="M145.40,387.25V391.75M143.54,387.94L147.26,391.06M143.54,391.06L147.26,387.94" stroke="#606060" stroke-width="1.05" stroke-linecap="round" fill="none"/>
<path d="M150.40,387.25V391.75M148.54,387.94L152.26,391.06M148.54,391.06L152.26,387.94" stroke="#606060" stroke-width="1.05" stroke-linecap="round" fill="none"/>
<path d="M177.30,413.65V418.15M175.44,414.34L179.16,417.46M175.44,417.46L179.16,414.34" stroke="#606060" stroke-width="1.05" stroke-linecap="round" fill="none"/>
<path d="M182.30,413.65V418.15M180.44,414.34L184.16,417.46M180.44,417.46L184.16,414.34" stroke="#606060" stroke-width="1.05" stroke-linecap="round" fill="none"/>
<path d="M209.20,410.15V414.65M207.34,410.84L211.06,413.96M207.34,413.96L211.06,410.84" stroke="#606060" stroke-width="1.05" stroke-linecap="round" fill="none"/>
<path d="M214.20,410.15V414.65M212.34,410.84L216.06,413.96M212.34,413.96L216.06,410.84" stroke="#606060" stroke-width="1.05" stroke-linecap="round" fill="none"/>
<path d="M243.60,410.15V414.65M241.74,410.84L245.46,413.96M241.74,413.96L245.46,410.84" stroke="#606060" stroke-width="1.05" stroke-linecap="round" fill="none"/>
<line x1="242.4" y1="300" x2="261.8" y2="300" stroke="#222" stroke-width="1.1"/>
<rect x="250.2" y="298.1" width="3.8" height="3.8" fill="#000"/>
<line x1="242.4" y1="315.5" x2="261.8" y2="315.5" stroke="#c06060" stroke-width="1.1"/>
<circle cx="252.1" cy="315.5" r="2.1" fill="#e80000"/>
<text x="265.70" y="303.90" font-size="12" text-anchor="start" font-weight="bold" font-style="normal" fill="#000" >ISL</text>
<text x="265.70" y="318.85" font-size="12" text-anchor="start" font-weight="bold" font-style="normal" fill="#000" >ISR</text>
<line x1="426" y1="285.8" x2="649.7" y2="285.8" stroke="#555" stroke-width="1.4"/>
<line x1="426" y1="285.2" x2="426" y2="475.6" stroke="#888" stroke-width="1.8"/>
<line x1="649.7" y1="285.2" x2="649.7" y2="475.6" stroke="#222" stroke-width="1.3"/>
<line x1="425.1" y1="475" x2="649.7" y2="475" stroke="#444" stroke-width="1.2"/>
<line x1="422.4" y1="475.0" x2="426" y2="475.0" stroke="#666" stroke-width="1.2"/>
<text x="419.60" y="478.90" font-size="11.8" text-anchor="end" font-weight="bold" font-style="normal" fill="#000" transform="translate(0 475.00) scale(1 1.05) translate(0 -475.00)">0</text>
<line x1="422.4" y1="411.93333333333334" x2="426" y2="411.93333333333334" stroke="#666" stroke-width="1.2"/>
<text x="419.60" y="415.83" font-size="11.8" text-anchor="end" font-weight="bold" font-style="normal" fill="#000" transform="translate(0 411.93) scale(1 1.05) translate(0 -411.93)">1</text>
<line x1="422.4" y1="348.8666666666667" x2="426" y2="348.8666666666667" stroke="#666" stroke-width="1.2"/>
<text x="419.60" y="352.77" font-size="11.8" text-anchor="end" font-weight="bold" font-style="normal" fill="#000" transform="translate(0 348.87) scale(1 1.05) translate(0 -348.87)">2</text>
<line x1="422.4" y1="285.8" x2="426" y2="285.8" stroke="#666" stroke-width="1.2"/>
<text x="419.60" y="289.70" font-size="11.8" text-anchor="end" font-weight="bold" font-style="normal" fill="#000" transform="translate(0 285.80) scale(1 1.05) translate(0 -285.80)">3</text>
<line x1="441.80" y1="475" x2="441.80" y2="478.4" stroke="#666" stroke-width="1.2"/>
<text x="441.80" y="491.00" font-size="11.5" text-anchor="middle" font-weight="bold" font-style="normal" fill="#000" transform="translate(0 491.00) scale(1 1.08) translate(0 -491.00)">5</text>
<line x1="473.77" y1="475" x2="473.77" y2="478.4" stroke="#666" stroke-width="1.2"/>
<text x="473.77" y="491.00" font-size="11.5" text-anchor="middle" font-weight="bold" font-style="normal" fill="#000" transform="translate(0 491.00) scale(1 1.08) translate(0 -491.00)">10</text>
<line x1="505.74" y1="475" x2="505.74" y2="478.4" stroke="#666" stroke-width="1.2"/>
<text x="505.74" y="491.00" font-size="11.5" text-anchor="middle" font-weight="bold" font-style="normal" fill="#000" transform="translate(0 491.00) scale(1 1.08) translate(0 -491.00)">15</text>
<line x1="537.71" y1="475" x2="537.71" y2="478.4" stroke="#666" stroke-width="1.2"/>
<text x="537.71" y="491.00" font-size="11.5" text-anchor="middle" font-weight="bold" font-style="normal" fill="#000" transform="translate(0 491.00) scale(1 1.08) translate(0 -491.00)">20</text>
<line x1="569.68" y1="475" x2="569.68" y2="478.4" stroke="#666" stroke-width="1.2"/>
<text x="569.68" y="491.00" font-size="11.5" text-anchor="middle" font-weight="bold" font-style="normal" fill="#000" transform="translate(0 491.00) scale(1 1.08) translate(0 -491.00)">25</text>
<line x1="601.65" y1="475" x2="601.65" y2="478.4" stroke="#666" stroke-width="1.2"/>
<text x="601.65" y="491.00" font-size="11.5" text-anchor="middle" font-weight="bold" font-style="normal" fill="#000" transform="translate(0 491.00) scale(1 1.08) translate(0 -491.00)">30</text>
<line x1="633.62" y1="475" x2="633.62" y2="478.4" stroke="#666" stroke-width="1.2"/>
<text x="633.62" y="491.00" font-size="11.5" text-anchor="middle" font-weight="bold" font-style="normal" fill="#000" transform="translate(0 491.00) scale(1 1.08) translate(0 -491.00)">35</text>
<text x="537.85" y="509.80" font-size="12" text-anchor="middle" font-weight="bold" font-style="normal" fill="#000" textLength="139" lengthAdjust="spacingAndGlyphs">Days after flowering (DAF)</text>
<text x="370.50" y="276.50" font-size="24.6" text-anchor="start" font-weight="bold" font-style="normal" fill="#000" >D</text>
<text x="0.00" y="0.00" font-size="12.5" text-anchor="middle" font-weight="bold" font-style="normal" fill="#000" transform="translate(393,380.40) rotate(-90)">T6P content</text>
<text x="0.00" y="0.00" font-size="12.5" text-anchor="middle" font-weight="bold" font-style="normal" fill="#000" transform="translate(409.3,380.40) rotate(-90)">(ng·g<tspan font-size="8" dy="-4.5">-1</tspan><tspan dy="4.5"> </tspan>FW )</text>
<path d="M441.80,423V440.2M439.80,423H443.80M439.80,440.2H443.80" stroke="#777" stroke-width="1.05" fill="none"/>
<path d="M473.77,413.3V429.8M471.77,413.3H475.77M471.77,429.8H475.77" stroke="#777" stroke-width="1.05" fill="none"/>
<path d="M505.74,311.1V363.2M503.74,311.1H507.74M503.74,363.2H507.74" stroke="#777" stroke-width="1.05" fill="none"/>
<path d="M537.71,375.2V397.2M535.71,375.2H539.71M535.71,397.2H539.71" stroke="#777" stroke-width="1.05" fill="none"/>
<path d="M569.68,385.5V400.1M567.68,385.5H571.68M567.68,400.1H571.68" stroke="#777" stroke-width="1.05" fill="none"/>
<path d="M601.65,399.9V411.4M599.65,399.9H603.65M599.65,411.4H603.65" stroke="#777" stroke-width="1.05" fill="none"/>
<path d="M633.62,404.5V427M631.62,404.5H635.62M631.62,427H635.62" stroke="#777" stroke-width="1.05" fill="none"/>
<path d="M441.80,414V421M439.80,414H443.80M439.80,421H443.80" stroke="#d8a0a0" stroke-width="1.1" fill="none"/>
<path d="M473.77,340.5V367.8M471.77,340.5H475.77M471.77,367.8H475.77" stroke="#d8a0a0" stroke-width="1.1" fill="none"/>
<path d="M505.74,372.9V382.8M503.74,372.9H507.74M503.74,382.8H507.74" stroke="#d8a0a0" stroke-width="1.1" fill="none"/>
<path d="M537.71,354.8V361.5M535.71,354.8H539.71M535.71,361.5H539.71" stroke="#d8a0a0" stroke-width="1.1" fill="none"/>
<path d="M569.68,422.5V442.2M567.68,422.5H571.68M567.68,442.2H571.68" stroke="#d8a0a0" stroke-width="1.1" fill="none"/>
<path d="M601.65,435.7V443.8M599.65,435.7H603.65M599.65,443.8H603.65" stroke="#d8a0a0" stroke-width="1.1" fill="none"/>
<path d="M633.62,427.2V445.2M631.62,427.2H635.62M631.62,445.2H635.62" stroke="#d8a0a0" stroke-width="1.1" fill="none"/>
<polyline points="441.80,432.1 473.77,421.8 505.74,337.5 537.71,385.8 569.68,392.9 601.65,405.6 633.62,416" stroke="#111" stroke-width="1.0" fill="none"/>
<polyline points="441.80,417.7 473.77,354.4 505.74,378.2 537.71,358.4 569.68,432 601.65,439.6 633.62,435" stroke="#b23434" stroke-width="1.0" fill="none"/>
<rect x="439.70" y="430.00" width="4.2" height="4.2" fill="#000"/>
<rect x="471.67" y="419.70" width="4.2" height="4.2" fill="#000"/>
<rect x="503.64" y="335.40" width="4.2" height="4.2" fill="#000"/>
<rect x="535.61" y="383.70" width="4.2" height="4.2" fill="#000"/>
<rect x="567.58" y="390.80" width="4.2" height="4.2" fill="#000"/>
<rect x="599.55" y="403.50" width="4.2" height="4.2" fill="#000"/>
<rect x="631.52" y="413.90" width="4.2" height="4.2" fill="#000"/>
<circle cx="441.80" cy="417.7" r="2.3" fill="#e80000" stroke="#b00000" stroke-width="0.4"/>
<circle cx="473.77" cy="354.4" r="2.3" fill="#e80000" stroke="#b00000" stroke-width="0.4"/>
<circle cx="505.74" cy="378.2" r="2.3" fill="#e80000" stroke="#b00000" stroke-width="0.4"/>
<circle cx="537.71" cy="358.4" r="2.3" fill="#e80000" stroke="#b00000" stroke-width="0.4"/>
<circle cx="569.68" cy="432" r="2.3" fill="#e80000" stroke="#b00000" stroke-width="0.4"/>
<circle cx="601.65" cy="439.6" r="2.3" fill="#e80000" stroke="#b00000" stroke-width="0.4"/>
<circle cx="633.62" cy="435" r="2.3" fill="#e80000" stroke="#b00000" stroke-width="0.4"/>
<path d="M441.80,406.75V411.25M439.94,407.44L443.66,410.56M439.94,410.56L443.66,407.44" stroke="#606060" stroke-width="1.05" stroke-linecap="round" fill="none"/>
<path d="M471.27,332.45V336.95M469.41,333.14L473.13,336.26M469.41,336.26L473.13,333.14" stroke="#606060" stroke-width="1.05" stroke-linecap="round" fill="none"/>
<path d="M476.27,332.45V336.95M474.41,333.14L478.13,336.26M474.41,336.26L478.13,333.14" stroke="#606060" stroke-width="1.05" stroke-linecap="round" fill="none"/>
<path d="M537.71,345.35V349.85M535.85,346.04L539.57,349.16M535.85,349.16L539.57,346.04" stroke="#606060" stroke-width="1.05" stroke-linecap="round" fill="none"/>
<path d="M567.18,413.35V417.85M565.32,414.04L569.04,417.16M565.32,417.16L569.04,414.04" stroke="#606060" stroke-width="1.05" stroke-linecap="round" fill="none"/>
<path d="M572.18,413.35V417.85M570.32,414.04L574.04,417.16M570.32,417.16L574.04,414.04" stroke="#606060" stroke-width="1.05" stroke-linecap="round" fill="none"/>
<path d="M599.15,426.75V431.25M597.29,427.44L601.01,430.56M597.29,430.56L601.01,427.44" stroke="#606060" stroke-width="1.05" stroke-linecap="round" fill="none"/>
<path d="M604.15,426.75V431.25M602.29,427.44L606.01,430.56M602.29,430.56L606.01,427.44" stroke="#606060" stroke-width="1.05" stroke-linecap="round" fill="none"/>
<line x1="592.3" y1="302" x2="611.6999999999999" y2="302" stroke="#222" stroke-width="1.1"/>
<rect x="600.1" y="300.1" width="3.8" height="3.8" fill="#000"/>
<line x1="592.3" y1="317.5" x2="611.6999999999999" y2="317.5" stroke="#c06060" stroke-width="1.1"/>
<circle cx="602.0" cy="317.5" r="2.1" fill="#e80000"/>
<text x="615.90" y="305.90" font-size="12" text-anchor="start" font-weight="bold" font-style="normal" fill="#000" >ISL</text>
<text x="615.90" y="320.85" font-size="12" text-anchor="start" font-weight="bold" font-style="normal" fill="#000" >ISR</text>
</svg></body></html>
